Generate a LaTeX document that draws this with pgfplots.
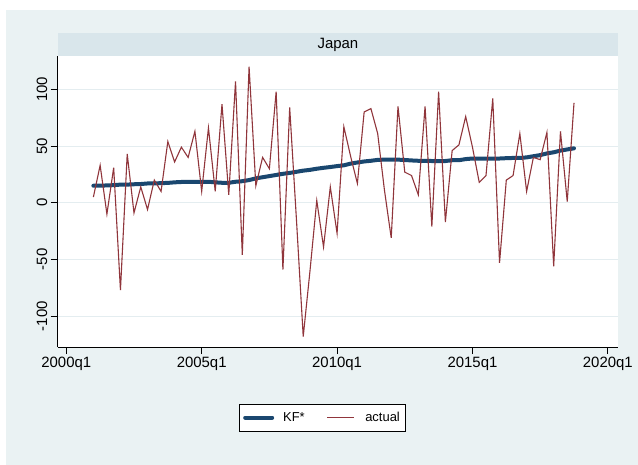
\documentclass[border=0pt]{standalone}
\usepackage{pgfplots}
\usepackage{pgfplotstable}
\pgfplotsset{compat=1.18}
\usepackage{fontspec}
\setmainfont{Liberation Sans}
\definecolor{bgc}{HTML}{EAF2F3}
\definecolor{bandc}{HTML}{D9E6EB}
\definecolor{gridc}{HTML}{E4EDF0}
\definecolor{stnavy}{HTML}{1A476F}
\definecolor{stmaroon}{HTML}{90353B}
\pgfplotstableread{
q kf actual
4 15 5
5 15 33
6 15.3 -10
7 15.5 31
8 16 -77
9 16 43
10 16.3 -9
11 16.5 14
12 17 -6
13 17 20
14 17.3 10
15 17.5 54
16 18 36
17 18.3 49
18 18.5 40
19 18.5 63
20 18.5 10
21 18.5 66
22 18 10
23 17.6 87
24 17.6 7
25 18.5 107
26 19 -46
27 20 120
28 21.5 15
29 22.5 40
30 23.5 30
31 24.5 98
32 25.5 -59
33 26.3 84
34 27.3 -15
35 28.3 -118
36 29 -60
37 30 2
38 30.8 -39
39 31.5 14
40 32.3 -27
41 33 67
42 34.5 41
43 35.5 17
44 36.4 80
45 37 83
46 37.8 61
47 38 11
48 38 -31
49 38 85
50 37.7 27
51 37.3 24
52 37 7
53 37 85
54 36.8 -21
55 36.8 98
56 36.8 -17
57 37.5 46
58 37.5 51
59 38.5 76
60 39 49
61 39 18
62 39 24
63 39 92
64 39 -53
65 39.3 20
66 39.5 24
67 39.5 61
68 40 10
69 41 40
70 42 38
71 43.5 62
72 44.5 -56
73 46 63
74 47 1
75 48 88
}\japandata
\begin{document}
\begin{tikzpicture}
\useasboundingbox (0bp,0bp) rectangle (638bp,465bp);
\fill[white] (0bp,0bp) rectangle (638bp,465bp);
\fill[bgc] (6bp,0bp) rectangle (638bp,455bp);
\fill[bandc] (57.7bp,409bp) rectangle (618bp,432bp);
\node[font=\fontsize{15}{18}\selectfont] at (337.9bp,420.5bp) {Japan};
\begin{axis}[
  at={(57.7bp,118bp)}, anchor=south west,
  scale only axis, width=560.3bp, height=291bp,
  xmin=-1.27, xmax=81.5, ymin=-127.2, ymax=129.4,
  axis lines*=left, axis line style={-, black, line width=0.9bp},
  axis background/.style={fill=white},
  tick align=outside, major tick length=7bp,
  every tick/.style={black, line width=0.9bp},
  xtick={0,20,40,60,80},
  xticklabels={2000q1,2005q1,2010q1,2015q1,2020q1},
  ytick={-100,-50,0,50,100},
  yticklabels={-100,-50,0,50,100},
  ticklabel style={font=\fontsize{15}{18}\selectfont},
  yticklabel style={rotate=90, anchor=south},
  ymajorgrids, major grid style={gridc, line width=1bp},
  legend style={at={(0.4726,-0.2423)}, anchor=center, legend columns=2,
    draw=black, line width=0.8bp, fill=white,
    inner xsep=4bp, inner ysep=6bp,
    font=\fontsize{13}{15}\selectfont,
    /tikz/every even column/.append style={column sep=20bp}},
  legend image code/.code={\path[draw=none,fill=none] (0bp,-4bp) rectangle (36bp,4bp);\draw[#1] (0bp,0bp) -- (27bp,0bp);},
]
\addplot[stnavy, line width=4bp, line cap=round] table[x=q, y=kf] {\japandata};
\addlegendentry{KF*}
\addplot[stmaroon, line width=1.1bp] table[x=q, y=actual] {\japandata};
\addlegendentry{actual}
\end{axis}
\end{tikzpicture}
\end{document}
